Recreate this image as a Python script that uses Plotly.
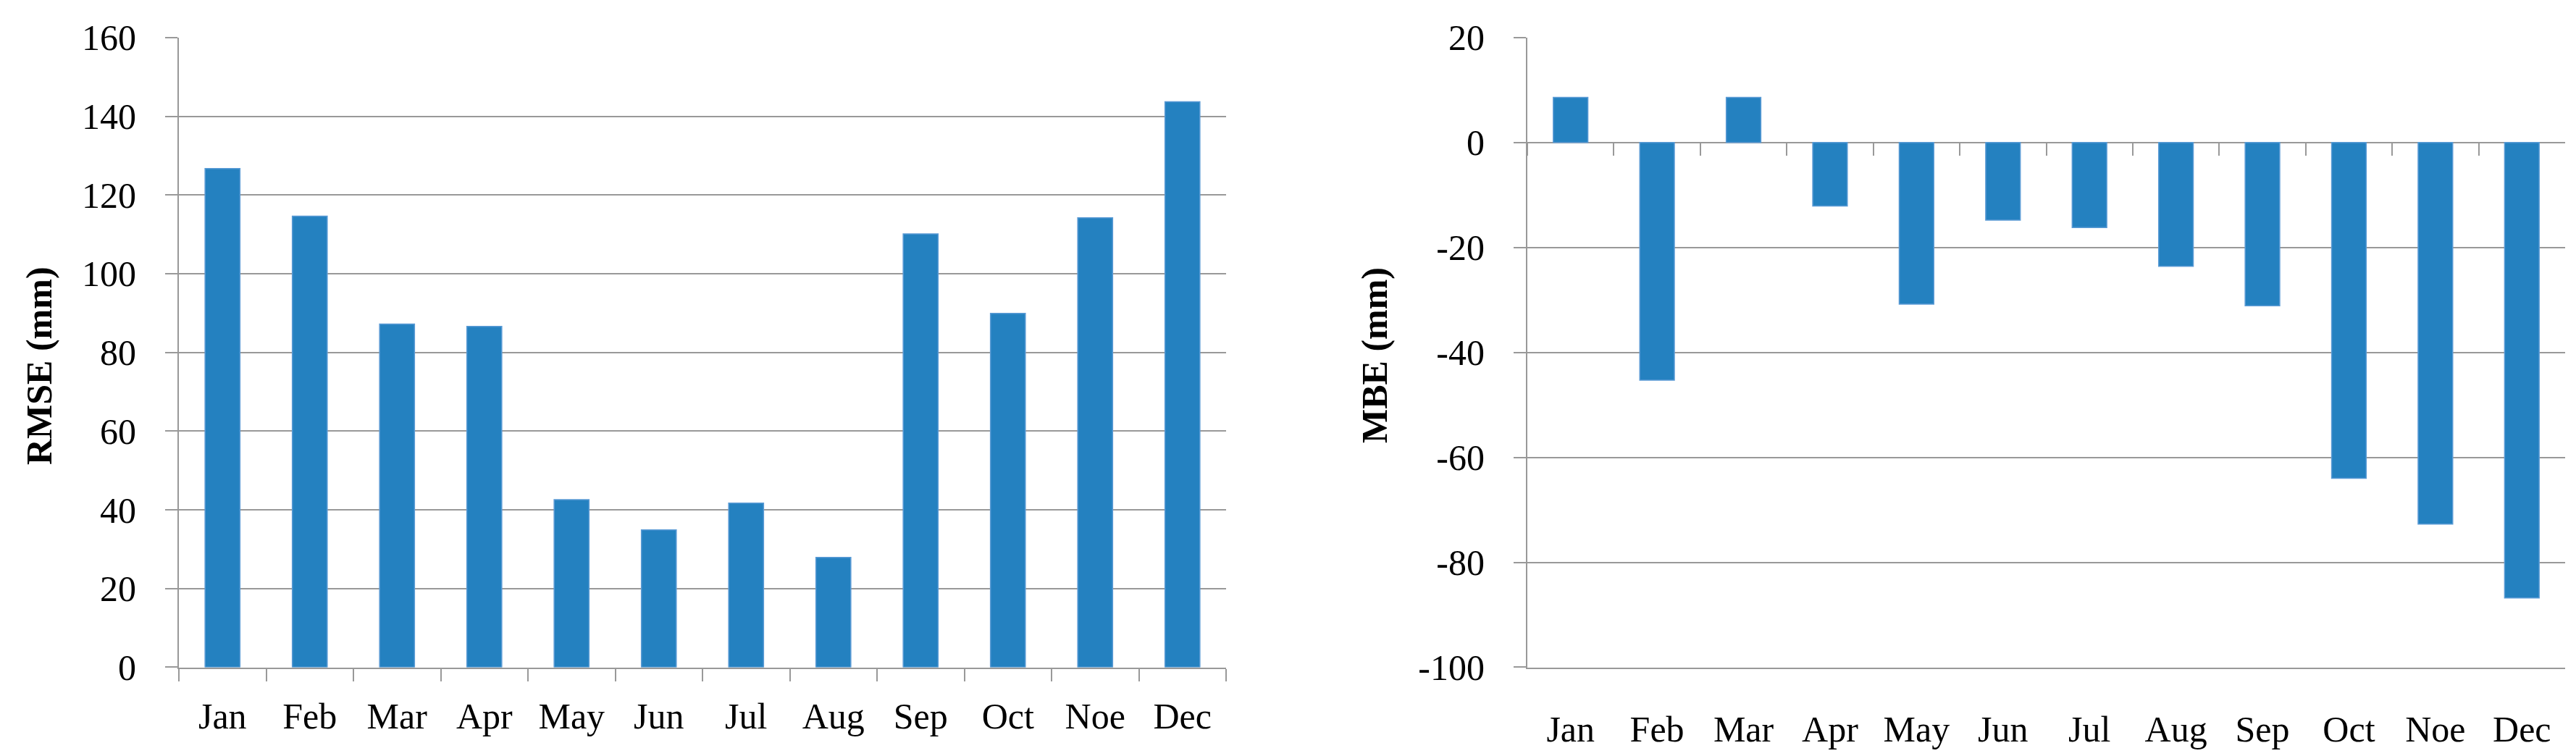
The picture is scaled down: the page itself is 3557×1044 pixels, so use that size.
import plotly.graph_objects as go

months = ['Jan', 'Feb', 'Mar', 'Apr', 'May', 'Jun', 'Jul', 'Aug', 'Sep', 'Oct', 'Noe', 'Dec']
rmse = [126.7, 114.6, 87.2, 86.6, 42.6, 34.9, 41.7, 27.9, 110.1, 89.9, 114.2, 143.7]
mbe = [8.6, -45.3, 8.6, -12.1, -30.8, -14.8, -16.2, -23.6, -31.1, -64.0, -72.7, -86.8]

# MBE axis labels use a plain hyphen, as in the original
mbe_ticks = [20, 0, -20, -40, -60, -80, -100]
mbe_tick_labels = ['20', '0', '-20', '-40', '-60', '-80', '-100']

bar_color = '#2481c0'
edge_color = '#5b9bd5'
grid = '#999999'
font = dict(family='Liberation Serif', size=50, color='black')

W, H = 3557, 1044
ydom = [0.125, 0.958]

fig = go.Figure()
fig.add_trace(go.Bar(x=months, y=rmse, xaxis='x', yaxis='y',
                     marker=dict(color=bar_color, line=dict(color=edge_color, width=1.5))))
fig.add_trace(go.Bar(x=months, y=mbe, xaxis='x2', yaxis='y2',
                     marker=dict(color=bar_color, line=dict(color=edge_color, width=1.5))))
# invisible trace so the tick marks on the zero line get their categories
fig.add_trace(go.Scatter(x=months, y=mbe, xaxis='x3', yaxis='y2', mode='markers',
                         marker=dict(opacity=0), hoverinfo='skip'))

xcommon = dict(type='category', categoryorder='array', categoryarray=months,
               range=[-0.5, 11.5], tickson='boundaries', showgrid=False,
               tickfont=font, linecolor=grid, linewidth=2, tickcolor=grid,
               tickwidth=2, automargin=False)
ycommon = dict(showline=True, linecolor=grid, linewidth=2, ticks='outside',
               ticklen=17, tickcolor=grid, tickwidth=2, showgrid=True, gridcolor=grid,
               gridwidth=2, tickfont=font, ticklabelstandoff=30, automargin=False)

zero_pos = ydom[0] + (100 / 120) * (ydom[1] - ydom[0])

fig.update_layout(
    width=W, height=H,
    margin=dict(l=0, r=0, t=0, b=0),
    paper_bgcolor='white', plot_bgcolor='white',
    showlegend=False, bargap=0.6,
    font=font,
    xaxis=dict(domain=[239 / W, 1685 / W], anchor='y', showline=True,
               ticks='outside', ticklen=17, ticklabelstandoff=22, **xcommon),
    yaxis=dict(domain=ydom, anchor='x', range=[0, 160], dtick=20, zeroline=False,
               **ycommon),
    xaxis2=dict(domain=[2101 / W, 3534 / W], anchor='y2', showline=True,
                ticks='', ticklabelstandoff=40, **xcommon),
    yaxis2=dict(domain=ydom, anchor='x2', range=[-100, 20], tickmode='array',
                tickvals=mbe_ticks, ticktext=mbe_tick_labels, zeroline=True,
                zerolinecolor=grid, zerolinewidth=2, **ycommon),
    xaxis3=dict(overlaying='x2', anchor='free', position=zero_pos, side='bottom',
                showline=False, ticks='outside', ticklen=17, showticklabels=False,
                **xcommon),
    annotations=[
        dict(text='<b>RMSE (mm)</b>', textangle=-90, xref='paper', yref='paper',
             x=46 / W, y=1 - 497 / H, xanchor='center', yanchor='middle',
             showarrow=False, font=font),
        dict(text='<b>MBE (mm)</b>', textangle=-90, xref='paper', yref='paper',
             x=1890 / W, y=1 - 483 / H, xanchor='center', yanchor='middle',
             showarrow=False, font=font),
    ],
)

fig.write_html('out.html')
